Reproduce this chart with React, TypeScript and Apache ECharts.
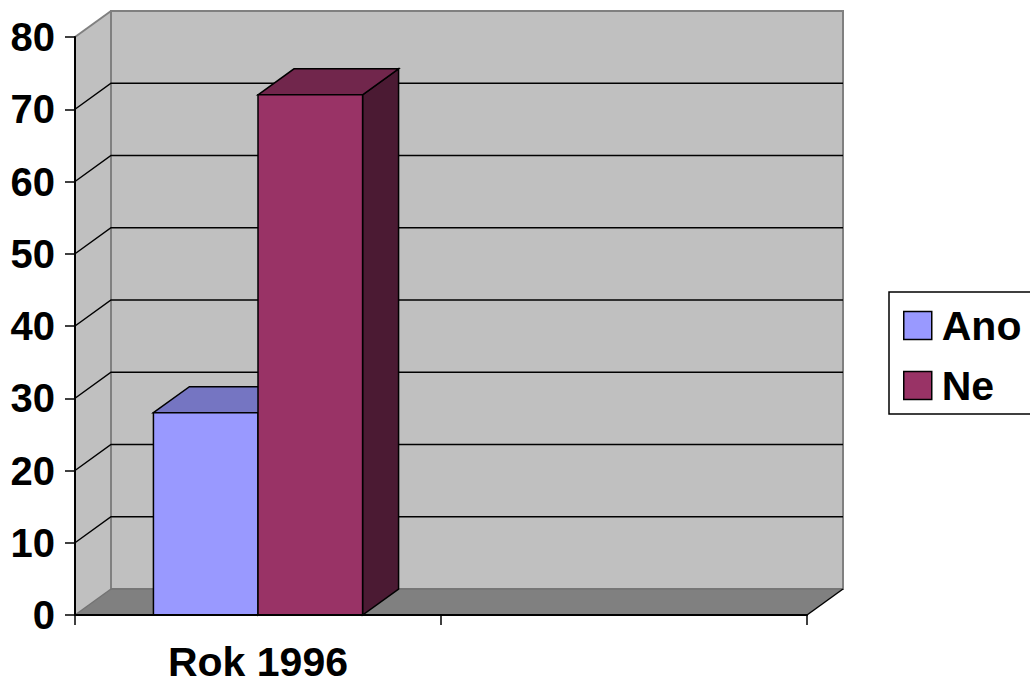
import React, { useEffect, useRef } from "react";
import * as echarts from "echarts";

// Survey answers for 1996 (percent)
const categories = ["Rok 1996", ""];
const seriesNames = ["Ano", "Ne"];
const anoValues = [28];
const neValues = [72];
const yTicks = [0, 10, 20, 30, 40, 50, 60, 70, 80];

// 3D depth offset of the walls and bars
const DX = 36;
const DY = -26;

const FONT = "'Liberation Sans', Arial, sans-serif";

const barColors = [
  { front: "#9999ff", top: "#7575c2", side: "#4d4d80" },
  { front: "#993366", top: "#71264c", side: "#4b1a33" },
];

function barRenderer(offset: number, colors: { front: string; top: string; side: string }) {
  return (params: any, api: any) => {
    const cat = api.value(0);
    const val = api.value(1);
    const base = api.coord([cat, 0]);
    const top = api.coord([cat, val]);
    const bandW = api.size([1, 0])[0];
    const barW = bandW / 3.5; // gap width 150 %
    const left = base[0] + offset * barW;
    const right = left + barW;
    const yT = top[1];
    const yB = base[1];
    const edge = { stroke: "#000", lineWidth: 1.5 };
    return {
      type: "group",
      children: [
        {
          type: "polygon",
          shape: { points: [[right, yT], [right + DX, yT + DY], [right + DX, yB + DY], [right, yB]] },
          style: { fill: colors.side, ...edge },
        },
        {
          type: "polygon",
          shape: { points: [[left, yT], [left + DX, yT + DY], [right + DX, yT + DY], [right, yT]] },
          style: { fill: colors.top, ...edge },
        },
        {
          type: "rect",
          shape: { x: left, y: yT, width: barW, height: yB - yT },
          style: { fill: colors.front, ...edge },
        },
      ],
    };
  };
}

function wallsRenderer(params: any, api: any) {
  const cs = params.coordSys;
  const x0 = cs.x;
  const x1 = cs.x + cs.width;
  const y0 = api.coord([0, yTicks[0]])[1];
  const yTop = api.coord([0, yTicks[yTicks.length - 1]])[1];
  const children: any[] = [];
  // side wall
  children.push({
    type: "polygon",
    shape: { points: [[x0, y0], [x0 + DX, y0 + DY], [x0 + DX, yTop + DY], [x0, yTop]] },
    style: { fill: "#c0c0c0", stroke: "none" },
  });
  // back wall
  children.push({
    type: "rect",
    shape: { x: x0 + DX, y: yTop + DY, width: x1 - x0, height: y0 - yTop },
    style: { fill: "#c0c0c0", stroke: "#808080", lineWidth: 2 },
  });
  // floor
  children.push({
    type: "polygon",
    shape: { points: [[x0, y0], [x1, y0], [x1 + DX, y0 + DY], [x0 + DX, y0 + DY]] },
    style: { fill: "#808080", stroke: "none" },
  });
  children.push({
    type: "line",
    shape: { x1: x0 + DX, y1: y0 + DY, x2: x1 + DX, y2: y0 + DY },
    style: { stroke: "#737373", lineWidth: 1.5 },
  });
  children.push({
    type: "line",
    shape: { x1: x0, y1: y0, x2: x0 + DX, y2: y0 + DY },
    style: { stroke: "#737373", lineWidth: 1.5 },
  });
  children.push({
    type: "line",
    shape: { x1: x1, y1: y0, x2: x1 + DX, y2: y0 + DY },
    style: { stroke: "#000", lineWidth: 1.5 },
  });
  // gridlines across the side and back walls
  yTicks.slice(1, -1).forEach((v) => {
    const y = api.coord([0, v])[1];
    children.push({
      type: "polyline",
      shape: { points: [[x0, y], [x0 + DX, y + DY], [x1 + DX, y + DY]] },
      style: { stroke: "#000", lineWidth: 1.5, fill: "none" },
    });
  });
  // top edge of side wall
  children.push({
    type: "line",
    shape: { x1: x0, y1: yTop, x2: x0 + DX, y2: yTop + DY },
    style: { stroke: "#808080", lineWidth: 2 },
  });
  return { type: "group", children };
}

export default function App() {
  const ref = useRef<HTMLDivElement>(null);

  useEffect(() => {
    if (!ref.current) return;
    const chart = echarts.init(ref.current, null, { renderer: "svg" });
    chart.setOption({
      animation: false,
      backgroundColor: "#ffffff",
      grid: { left: 75, right: 223, top: 37, bottom: 69 },
      // legend frame, running past the right edge of the canvas
      graphic: [
        {
          type: "rect",
          z: 0,
          shape: { x: 889, y: 292, width: 170, height: 122 },
          style: { fill: "#fff", stroke: "#000", lineWidth: 1.5 },
        },
      ],
      legend: {
        data: seriesNames,
        orient: "vertical",
        left: 889,
        top: 292,
        padding: [13, 10, 9, 14],
        itemGap: 19,
        itemWidth: 28,
        itemHeight: 28,
        icon: "rect",
        borderWidth: 0,
        itemStyle: { borderColor: "#000", borderWidth: 1.5 },
        textStyle: {
          fontSize: 41,
          fontWeight: "bold",
          color: "#000",
          fontFamily: FONT,
          lineHeight: 40,
          padding: [0, 0, 0, 5],
        },
        selectedMode: false,
      },
      xAxis: {
        type: "category",
        data: categories,
        boundaryGap: true,
        z: 10,
        axisLine: { show: true, lineStyle: { color: "#000", width: 2 } },
        axisTick: { show: true, length: 10, inside: false, lineStyle: { color: "#000", width: 1.5 } },
        axisLabel: { fontSize: 41, fontWeight: "bold", color: "#000", fontFamily: FONT, margin: 26 },
        splitLine: { show: false },
      },
      yAxis: {
        type: "value",
        min: yTicks[0],
        max: yTicks[yTicks.length - 1],
        interval: yTicks[1] - yTicks[0],
        z: 10,
        axisLine: { show: true, lineStyle: { color: "#000", width: 2 } },
        axisTick: { show: true, length: 10, lineStyle: { color: "#000", width: 1.5 } },
        axisLabel: { fontSize: 40, fontWeight: "bold", color: "#000", fontFamily: FONT, margin: 20 },
        splitLine: { show: false },
      },
      series: [
        {
          type: "custom",
          name: "walls",
          silent: true,
          z: 1,
          data: [[0, 0]],
          encode: { x: 0, y: 1 },
          renderItem: wallsRenderer,
        },
        {
          type: "custom",
          name: seriesNames[0],
          z: 2,
          itemStyle: { color: barColors[0].front },
          data: anoValues.map((v, i) => [i, v]),
          encode: { x: 0, y: 1 },
          renderItem: barRenderer(-1, barColors[0]),
        },
        {
          type: "custom",
          name: seriesNames[1],
          z: 3,
          itemStyle: { color: barColors[1].front },
          data: neValues.map((v, i) => [i, v]),
          encode: { x: 0, y: 1 },
          renderItem: barRenderer(0, barColors[1]),
        },
      ],
    });
    return () => chart.dispose();
  }, []);

  return (
    <div
      ref={ref}
      style={{ position: "fixed", left: 0, top: 0, width: 1030, height: 684, background: "#fff" }}
    />
  );
}
